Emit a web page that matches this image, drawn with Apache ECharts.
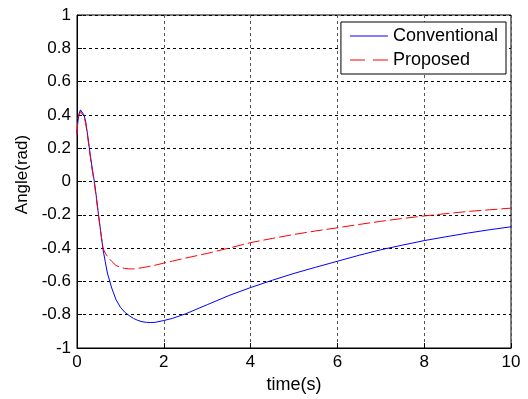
<!DOCTYPE html>
<html>
<head>
<meta charset="utf-8">
<script src="https://cdn.jsdelivr.net/npm/echarts@6/dist/echarts.min.js"></script>
<style>html,body{margin:0;padding:0;background:#fff;}#c{width:528px;height:399px;}</style>
</head>
<body>
<div id="c"></div>
<script>
var time = [0, 0.02, 0.05, 0.08, 0.12, 0.16, 0.2, 0.25, 0.3, 0.35, 0.4, 0.45, 0.5, 0.55, 0.6, 0.65, 0.7, 0.8, 0.9, 1.0, 1.1, 1.2, 1.3, 1.4, 1.5, 1.6, 1.7, 1.8, 2.0, 2.2, 2.5, 3.0, 3.5, 4.0, 4.5, 5.0, 5.5, 6.0, 6.5, 7.0, 7.5, 8.0, 8.5, 9.0, 9.5, 10.0];
var conventional = [0.29, 0.36, 0.41, 0.43, 0.42, 0.40, 0.36, 0.27, 0.17, 0.08, 0.0, -0.10, -0.21, -0.31, -0.41, -0.48, -0.55, -0.64, -0.71, -0.755, -0.785, -0.805, -0.822, -0.834, -0.842, -0.846, -0.847, -0.846, -0.835, -0.822, -0.795, -0.74, -0.685, -0.637, -0.593, -0.552, -0.515, -0.479, -0.443, -0.41, -0.382, -0.355, -0.332, -0.31, -0.29, -0.272];
var proposed = [0.28, 0.38, 0.40, 0.42, 0.41, 0.39, 0.35, 0.26, 0.16, 0.07, -0.01, -0.11, -0.21, -0.31, -0.40, -0.43, -0.45, -0.48, -0.505, -0.515, -0.522, -0.525, -0.525, -0.522, -0.518, -0.513, -0.508, -0.503, -0.49, -0.478, -0.46, -0.432, -0.40, -0.367, -0.342, -0.318, -0.297, -0.278, -0.258, -0.239, -0.222, -0.207, -0.193, -0.18, -0.17, -0.16];
var xTicks = {min: 0, max: 10, interval: 2};
var yTicks = {min: -1, max: 1, interval: 0.2};

function pairs(xs, ys) { return xs.map(function (x, i) { return [x, ys[i]]; }); }

var chart = echarts.init(document.getElementById('c'));
var font = 'Arial, "Liberation Sans", sans-serif';
chart.setOption({
  animation: false,
  backgroundColor: '#fff',
  textStyle: {fontFamily: font},
  grid: {left: 77, right: 17, top: 15, bottom: 46, show: true, borderColor: '#000', borderWidth: 1, containLabel: false},
  legend: {
    right: 22, top: 22, orient: 'vertical', align: 'left',
    backgroundColor: '#fff', borderColor: '#000', borderWidth: 1, borderRadius: 0,
    padding: [5, 8, 5, 9], itemGap: 6,
    itemWidth: 38, itemHeight: 16,
    textStyle: {fontFamily: font, fontSize: 18, color: '#000'},
    data: [{name: 'Conventional', icon: 'path://M0,7.5L38,7.5L38,8.5L0,8.5Z'}, {name: 'Proposed', icon: 'path://M0,7.5L15,7.5L15,8.5L0,8.5ZM23,7.5L38,7.5L38,8.5L23,8.5Z'}]
  },
  xAxis: {
    type: 'value', min: xTicks.min, max: xTicks.max, interval: xTicks.interval,
    name: 'time(s)', nameLocation: 'middle', nameGap: 28,
    nameTextStyle: {fontFamily: font, fontSize: 18, color: '#000'},
    axisLine: {onZero: false, lineStyle: {color: '#000', width: 1}},
    axisTick: {inside: true, length: 5, lineStyle: {color: '#000'}},
    axisLabel: {fontFamily: font, fontSize: 17, color: '#000', margin: 6},
    splitLine: {show: true, lineStyle: {color: '#555', type: [3, 3], width: 1}}
  },
  yAxis: {
    type: 'value', min: yTicks.min, max: yTicks.max, interval: yTicks.interval,
    name: 'Angle(rad)', nameLocation: 'middle', nameGap: 46, nameRotate: 90,
    nameTextStyle: {fontFamily: font, fontSize: 17, color: '#000', padding: [0, 0, 0, 14]},
    axisLine: {onZero: false, lineStyle: {color: '#000', width: 1}},
    axisTick: {inside: true, length: 5, lineStyle: {color: '#000'}},
    axisLabel: {fontFamily: font, fontSize: 17, color: '#000', margin: 6},
    splitLine: {show: true, lineStyle: {color: '#000', type: [3, 3], width: 1}}
  },
  series: [
    {name: 'Conventional', type: 'line', data: pairs(time, conventional), showSymbol: false, smooth: false,
     lineStyle: {color: '#0000ff', width: 1}, itemStyle: {color: '#0000ff'}},
    {name: 'Proposed', type: 'line', data: pairs(time, proposed), showSymbol: false, smooth: false,
     lineStyle: {color: '#ff0000', width: 1, type: [12, 4]}, itemStyle: {color: '#ff0000'}}
  ]
});
</script>
</body>
</html>
